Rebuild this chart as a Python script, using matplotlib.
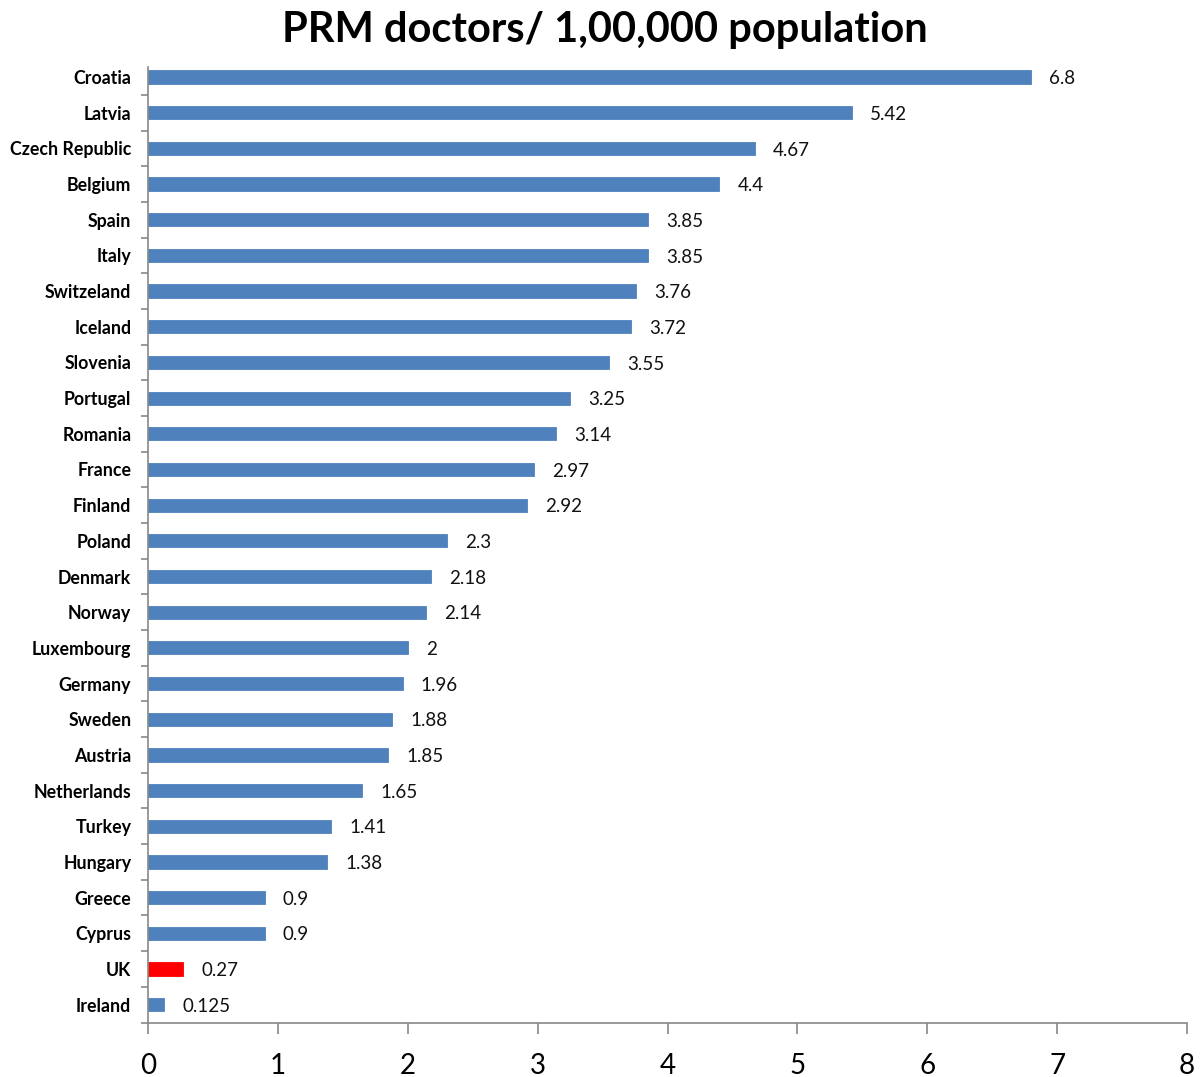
import numpy as np
import matplotlib.pyplot as plt

# Data (top to bottom)
countries = ['Croatia', 'Latvia', 'Czech Republic', 'Belgium', 'Spain', 'Italy',
             'Switzeland', 'Iceland', 'Slovenia', 'Portugal', 'Romania', 'France',
             'Finland', 'Poland', 'Denmark', 'Norway', 'Luxembourg', 'Germany',
             'Sweden', 'Austria', 'Netherlands', 'Turkey', 'Hungary', 'Greece',
             'Cyprus', 'UK', 'Ireland']
values = [6.8, 5.42, 4.67, 4.4, 3.85, 3.85, 3.76, 3.72, 3.55, 3.25, 3.14, 2.97,
          2.92, 2.3, 2.18, 2.14, 2, 1.96, 1.88, 1.85, 1.65, 1.41, 1.38, 0.9,
          0.9, 0.27, 0.125]
value_labels = ['6.8', '5.42', '4.67', '4.4', '3.85', '3.85', '3.76', '3.72', '3.55',
                '3.25', '3.14', '2.97', '2.92', '2.3', '2.18', '2.14', '2', '1.96',
                '1.88', '1.85', '1.65', '1.41', '1.38', '0.9', '0.9', '0.27', '0.125']
highlight = 'UK'

blue = '#4f81bd'
red = '#ff0000'

plt.rcParams['font.family'] = ['Lato', 'DejaVu Sans']

fig = plt.figure(figsize=(12.01, 10.77), dpi=100)
ax = fig.add_axes([0.1232, 0.0506, 0.8652, 0.8872])

n = len(countries)
ypos = np.arange(n)[::-1]
colors = [red if c == highlight else blue for c in countries]
ax.barh(ypos, values, height=0.37, color=colors, edgecolor=colors, linewidth=0.6)

# value labels to the right of each bar
for y, v, lab in zip(ypos, values, value_labels):
    ax.annotate(lab, (v, y), xytext=(13, -1.2), textcoords='offset points',
                va='center', ha='left', fontsize=13.5, color='#111111')

ax.set_xlim(0, 8)
ax.set_ylim(-0.5, n - 1 + 0.28)
ax.set_xticks(range(0, 9))
ax.tick_params(axis='x', labelsize=20, length=8, width=1.2, color='#888888', pad=14)

ax.set_yticks(ypos)
ax.set_yticklabels(countries, fontsize=12.8, fontweight='bold')
ax.tick_params(axis='y', which='major', length=0, pad=12)
ax.set_yticks(np.arange(-0.5, n - 1, 1.0), minor=True)
ax.tick_params(axis='y', which='minor', length=5, width=1.2, color='#888888')

for s in ['top', 'right']:
    ax.spines[s].set_visible(False)
for s in ['left', 'bottom']:
    ax.spines[s].set_color('#888888')
    ax.spines[s].set_linewidth(1.2)

fig.text(0.5035, 0.972, 'PRM doctors/ 1,00,000 population', ha='center', va='center',
         fontsize=30, fontweight='bold')

fig.savefig('out.png', dpi=100)
